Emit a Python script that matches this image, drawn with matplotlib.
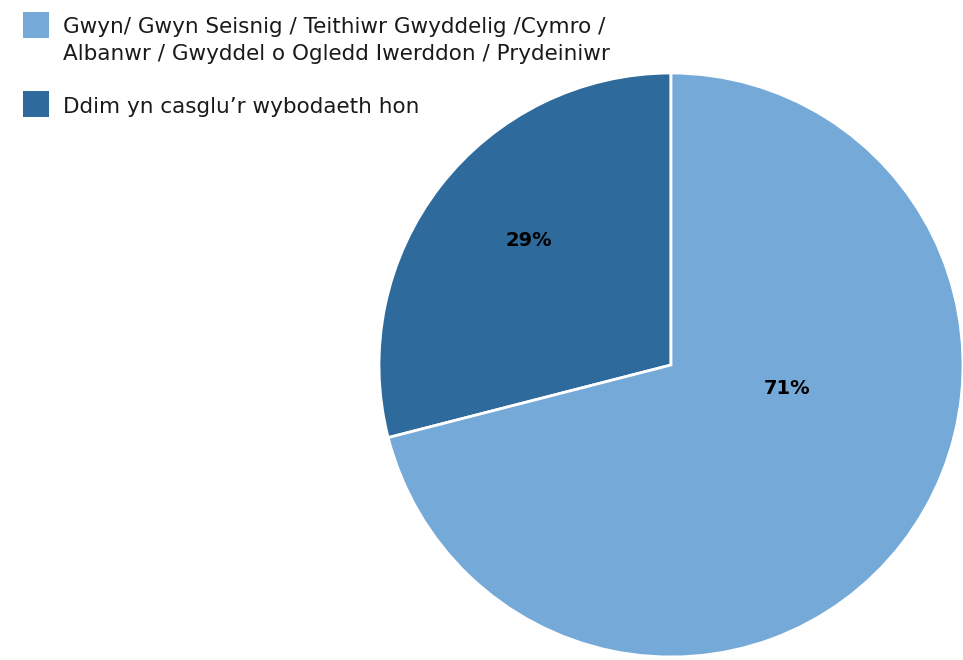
import matplotlib
matplotlib.use("Agg")
from matplotlib import pyplot as plt
from matplotlib.patches import Rectangle

plt.rcParams['font.family'] = ['DejaVu Sans']

# data
categories = ['Ddim yn casglu\u2019r wybodaeth hon',
              'Gwyn/ Gwyn Seisnig / Teithiwr Gwyddelig /Cymro /\nAlbanwr / Gwyddel o Ogledd Iwerddon / Prydeiniwr']
shares = [29, 71]
colours = ['#2e6a9c', '#74a9d8']

W, H = 963, 660
fig = plt.figure(figsize=(W/100, H/100), dpi=100)

# pie centre ~ (671, 365) px, radius ~292 px
cx, cy, r = 671, 365, 292
ax = fig.add_axes([(cx - r)/W, (H - cy - r)/H, 2*r/W, 2*r/H])

wedges, texts, autotexts = ax.pie(shares, colors=colours, startangle=90,
                                  counterclock=True, radius=1,
                                  autopct='%d%%',
                                  wedgeprops=dict(edgecolor='white', linewidth=2),
                                  textprops=dict(fontsize=14, fontweight='bold', color='black'))
# labels sit where the original put them, not on the wedge bisector
autotexts[0].set_position((-0.486, 0.428))
autotexts[1].set_position((0.397, -0.079))
for w in wedges:
    w.set_clip_on(False)
ax.set_xlim(-1, 1)
ax.set_ylim(-1, 1)
ax.set_aspect('equal')
ax.axis('off')

# legend drawn by hand, light first as in the original
# (swatch top, baseline of last text line) in px
legend_rows = [(categories[1], colours[1], 12, 60), (categories[0], colours[0], 91, 113)]
for label, col, ytop, ybase in legend_rows:
    fig.add_artist(Rectangle((23/W, 1 - (ytop + 26)/H), 26/W, 26/H,
                             transform=fig.transFigure, color=col, lw=0))
    fig.text(63/W, 1 - ybase/H, label, fontsize=15.5, va='baseline',
             linespacing=1.45, color='#1a1a1a')

fig.savefig('out.png', dpi=100)
